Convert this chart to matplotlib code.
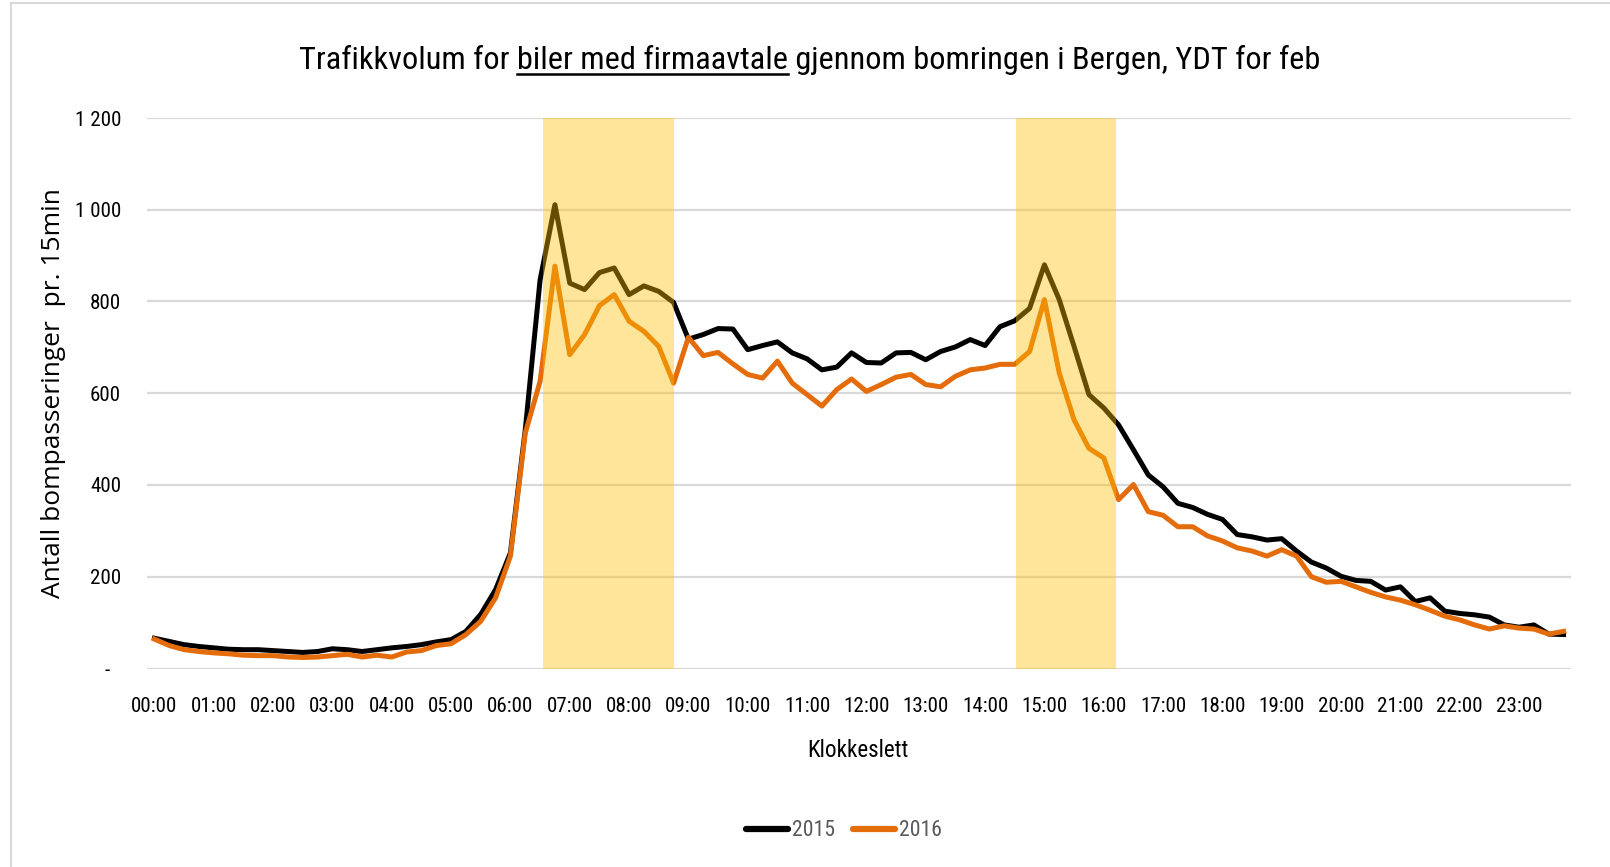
import matplotlib
matplotlib.use("Agg")
import matplotlib.pyplot as plt
import matplotlib.font_manager as fm
from matplotlib.lines import Line2D
from matplotlib.font_manager import FontProperties
from matplotlib.textpath import TextPath
from matplotlib.transforms import ScaledTranslation

# ---- data ----
times = [f"{h:02d}:{m:02d}" for h in range(24) for m in (0, 15, 30, 45)]
hour_labels = [f"{h:02d}:00" for h in range(24)]

y2015 = [66, 59, 52, 48, 45, 42, 41, 41, 39, 37, 35, 37, 43, 41, 37, 41, 45, 48, 52, 58,
         63, 81, 118, 172, 252, 520,
         847, 1011, 840, 826, 863, 873, 815, 834, 822, 798,
         718, 728, 741, 740, 695, 704, 712, 688, 675, 651, 657, 688, 667, 666, 688, 689,
         673, 691, 701, 717, 704, 745, 758,
         785, 880, 804, 702, 597, 568, 531, 477, 422, 396, 360,
         351, 336, 325, 292, 287, 280, 283, 256, 232, 219, 201, 192, 190, 171, 178, 146,
         154, 125, 120, 117, 112, 95, 90, 95, 75, 74]

y2016 = [64, 50, 41, 37, 34, 32, 29, 28, 28, 25, 24, 25, 28, 31, 25, 29, 25, 36, 39, 50,
         54, 74, 103, 154, 245, 513,
         626, 877, 684, 728, 791, 815, 757, 735, 702, 622,
         722, 682, 689, 664, 641, 633, 670, 622, 597, 572, 608, 631, 604, 619, 635, 641,
         619, 614, 637, 651, 655, 663, 663,
         691, 804, 644, 542, 480, 459, 368, 401, 342, 334, 309,
         309, 289, 278, 263, 256, 245, 259, 245, 200, 188, 190, 178, 166, 156, 149, 139,
         127, 114, 106, 95, 86, 93, 88, 86, 75, 81]

rush_periods = [(26.2, 35.0), (58.1, 64.85)]  # in 15-min slot units
series_names = ["2015", "2016"]
y_ticks = [0, 200, 400, 600, 800, 1000, 1200]
y_tick_labels = ["-", "200", "400", "600", "800", "1 000", "1 200"]

title_pre = "Trafikkvolum for "
title_mid = "biler med firmaavtale"
title_post = " gjennom bomringen i Bergen, YDT for feb"
x_title = "Klokkeslett"
y_title = "Antall bompasseringer  pr. 15min"

DPI = 100
W, H = 1610, 867


def ink(text, fp):
    e = TextPath((0, 0), text, size=72, prop=fp).get_extents()
    return e.width, e.height


ROOTS = {"noto sans", "roboto", "open sans", "dejavu sans", "liberation sans", "lato", "inter",
         "arimo", "ubuntu", "pt sans", "source sans pro", "source sans 3", "fira sans"}
COND_WORDS = ("condensed", "narrow", "compressed")


def pick_condensed():
    cands = []
    for f in fm.fontManager.ttflist:
        n = f.name.lower()
        fn = f.fname.lower().rsplit("/", 1)[-1]
        st = str(f.stretch).lower()
        is_cond = any(c in n or c in fn for c in COND_WORDS) or "condensed" in st
        if not is_cond:
            continue
        root = n
        for wd in COND_WORDS + ("semi", "extra", "ultra", "-"):
            root = root.replace(wd, " ")
        root = " ".join(root.split())
        if root not in ROOTS:
            continue
        if f.style != "normal":
            continue
        if any(b in fn for b in ("bold", "light", "thin", "black", "medium", "italic")):
            continue
        if not fn.endswith((".ttf", ".otf")):
            continue
        cands.append(f.fname)
    cands = sorted(set(cands))[:40]
    best, best_d = None, 1e9
    for fname in cands:
        try:
            fp = FontProperties(fname=fname)
            w, _ = ink("00:00", fp)
            _, h = ink("0", fp)
            d = abs(w / h - 2.84)
        except Exception:
            continue
        if d < best_d:
            best, best_d = fname, d
    return best


cond_file = pick_condensed()
if cond_file:
    COND = FontProperties(fname=cond_file)
else:
    COND = FontProperties(fname=fm.findfont(FontProperties(family="Liberation Sans")))

WIDE = FontProperties(fname=fm.findfont(FontProperties(family="Open Sans")))


def fit(text, fp, target_w, href=None, target_h=None):
    w, _ = ink(text, fp)
    size = target_w / (w * DPI / 72.0 / 72.0)
    if href and target_h:
        _, h = ink(href, fp)
        size = min(size, target_h / (h * DPI / 72.0 / 72.0))
    return size


def with_size(fp, size):
    p = fp.copy()
    p.set_size(size)
    return p


full_title = title_pre + title_mid + title_post
s_title = fit(full_title, COND, 1019, "T", 30)
s_tick = fit("00:00", COND, 44, "0", 16)
s_xl = fit(x_title, COND, 99, "K", 21)
s_leg = fit("2015", COND, 41, "0", 16)
s_yl = fit(y_title, WIDE, 408, "A", 19.5)

# ---- figure ----
fig = plt.figure(figsize=(W / DPI, H / DPI), dpi=DPI)
ax = fig.add_axes([147 / W, 1 - 668.5 / H, (1571 - 147) / W, (668.5 - 118) / H])

x = list(range(len(times)))
ax.plot(x, y2015, color="black", lw=3.6, zorder=3, label=series_names[0])
ax.plot(x, y2016, color="#E46C0A", lw=3.6, zorder=3, label=series_names[1])

for a, b in rush_periods:
    ax.axvspan(a, b, ymin=0, ymax=1, color="#FFC000", alpha=0.4, lw=0, zorder=4)

ax.set_xlim(-0.5, len(times) - 0.5)
ax.set_ylim(0, 1200)
ax.set_yticks(y_ticks)
ax.set_yticklabels(y_tick_labels, fontproperties=with_size(COND, s_tick))
ax.set_xticks(list(range(0, len(times), 4)))
ax.set_xticklabels(hour_labels, fontproperties=with_size(COND, s_tick), va="center")
ax.tick_params(axis="both", length=0, colors="black")
ax.tick_params(axis="x", pad=38 * 72 / DPI)
ax.tick_params(axis="y", pad=26 * 72 / DPI)
ax.grid(axis="y", color="#D9D9D9", lw=1.6, zorder=0)
ax.set_axisbelow(True)
for s in ax.spines.values():
    s.set_visible(False)

# the accounting-style zero "-" sits a bit further left, as in Excel
t0 = ax.yaxis.get_major_ticks()[0]
t0.label1.set_transform(t0.label1.get_transform() + ScaledTranslation(-8 / 72, 0, fig.dpi_scale_trans))

# axis titles
fig.text(53.5 / W, 1 - 393 / H, y_title, rotation=90, ha="center", va="center",
         fontproperties=with_size(WIDE, s_yl))
fig.text(858 / W, 1 - 750.5 / H, x_title, ha="center", va="center",
         fontproperties=with_size(COND, s_xl))

# title with underlined middle part
fp_title = with_size(COND, s_title)
cx = 810
fig.text(cx / W, 1 - 69 / H, full_title, ha="center", va="baseline", fontproperties=fp_title)
renderer = fig.canvas.get_renderer()


def tw(s):
    w, h, d = renderer.get_text_width_height_descent(s, fp_title, ismath=False)
    return w


w_full = tw(full_title)
w_pm = tw(title_pre + title_mid)
w_mid = tw(title_mid)
left_px = cx - w_full / 2
u0 = left_px + (w_pm - w_mid)
u1 = left_px + w_pm
uy = 1 - 74 / H
fig.add_artist(Line2D([u0 / W, u1 / W], [uy, uy], color="black", lw=1.8))

# legend
fpx = s_leg * DPI / 72.0
leg = fig.legend(loc="center", bbox_to_anchor=(843.5 / W, 1 - 831 / H), ncol=2, frameon=False,
                 prop=with_size(COND, s_leg), handlelength=42 / fpx, handletextpad=4 / fpx,
                 columnspacing=18 / fpx)
for t in leg.get_texts():
    t.set_color("#595959")
for l in leg.get_lines():
    l.set_linewidth(4.5)
    l.set_solid_capstyle("round")

# chart-area border (partially visible)
fig.add_artist(Line2D([10.5 / W, 10.5 / W], [0, 1 - 3 / H], color="#D9D9D9", lw=1.5))
fig.add_artist(Line2D([10.5 / W, 1], [1 - 3 / H, 1 - 3 / H], color="#D9D9D9", lw=1.5))

fig.savefig("out.png", dpi=DPI, facecolor="white")
